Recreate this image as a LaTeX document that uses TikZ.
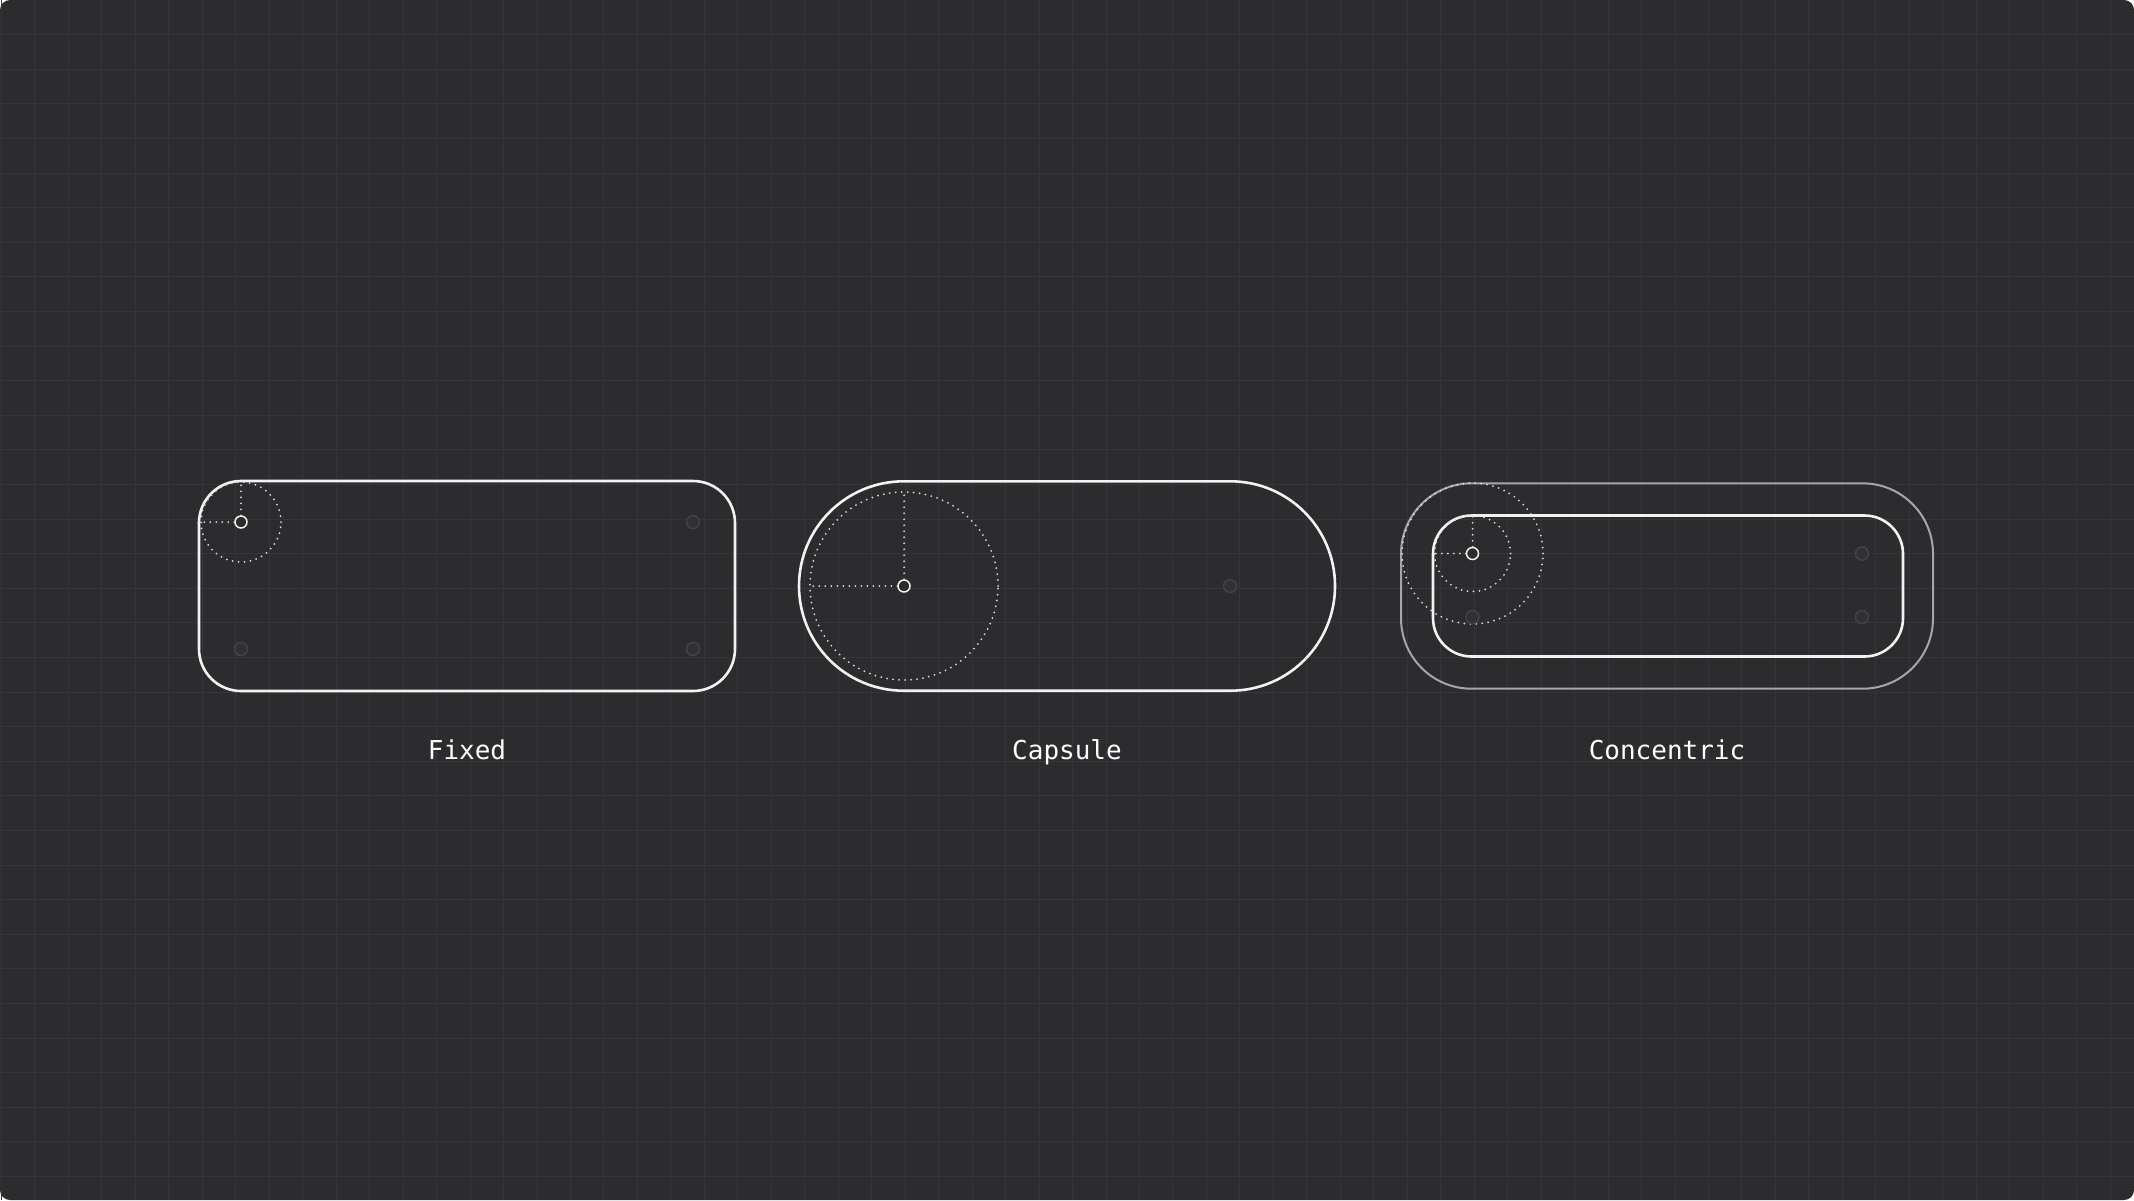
\documentclass[tikz,border=0pt]{standalone}
\usepackage{fontspec}
\setmonofont{DejaVu Sans Mono}
\usetikzlibrary{positioning}

\definecolor{canvas}{HTML}{2C2C2E}
\definecolor{gridgray}{HTML}{36363A}
\definecolor{shapewhite}{HTML}{F2F2F2}
\definecolor{ringgray}{HTML}{A6A6A8}
\definecolor{faintgray}{HTML}{424245}
\definecolor{faintfill}{HTML}{313134}
\definecolor{dotwhite}{HTML}{DCDCDE}

\begin{document}
\begin{tikzpicture}
    [x=0.5pt, y=-0.5pt,
    gridline/.style={
        draw=gridgray, line width=0.5pt
    },
    shapebox/.style={
        rectangle,
        draw=shapewhite,
        line width=1.3pt,
        inner sep=0pt
    },
    pivot/.style={
        circle, draw=shapewhite, fill=canvas,
        line width=0.75pt, minimum size=6pt, inner sep=0pt
    },
    faint/.style={
        circle, draw=faintgray, fill=faintfill, line width=0.8pt,
        minimum size=6.5pt, inner sep=0pt
    },
    radiusline/.style={
        draw=dotwhite, line width=1pt, line cap=round,
        dash pattern=on 0pt off 3pt
    },
    caption/.style={
        font=\ttfamily\fontsize{13}{15}\selectfont,
        text=white, text height=10pt, text depth=3pt
    }
    ]

    % Canvas with grid
    \useasboundingbox (0,0) rectangle (2134,1200);
    \fill[white] (0,0) rectangle (2134,1200);
    \fill[canvas, rounded corners=5pt] (0,0) rectangle (2134,1200);
    \foreach \i in {0,...,63}
        \draw[gridline] (1.5+33.47*\i,0) -- (1.5+33.47*\i,1200);
    \foreach \j in {1,...,34}
        \draw[gridline] (0,34.6*\j) -- (2134,34.6*\j);

    % Fixed
    \node[shapebox, rounded corners=21pt, minimum width=268pt, minimum height=105pt] (fixed) at (467,586) {};
    \draw[radiusline] (241,522) circle[radius=20pt];
    \node[pivot] (fixedpivot) at (241,522) {};
    \draw[radiusline] (fixedpivot.north) -- (fixedpivot.center |- fixed.north);
    \draw[radiusline] (fixedpivot.west) -- (fixedpivot.center -| fixed.west);
    \node[faint] (fixedtr) at (693,522) {};
    \node[faint] (fixedbl) at (241,649) {};
    \node[faint] (fixedbr) at (693,649) {};
    \node[caption, below=20pt of fixed] (fixedlabel) {Fixed};

    % Capsule
    \node[shapebox, rounded corners=52.35pt, minimum width=268pt, minimum height=104.7pt] (capsule) at (1067,586) {};
    \draw[radiusline] (904,586) circle[radius=47pt];
    \node[pivot] (capsulepivot) at (904,586) {};
    \draw[radiusline] (capsulepivot.north) -- (904,492);
    \draw[radiusline] (capsulepivot.west) -- (810,586);
    \node[faint] (capsuleright) at (1230,586) {};
    \node[caption, below=20pt of capsule] (capsulelabel) {Capsule};

    % Concentric
    \node[shapebox, draw=ringgray, line width=1pt, rounded corners=35.25pt, minimum width=266pt, minimum height=102.7pt] (outer) at (1667,586) {};
    \node[shapebox, rounded corners=19.25pt, minimum width=235pt, minimum height=70.5pt] (inner) at (1668,586) {};
    \draw[radiusline] (1472.5,553.5) circle[radius=35.25pt];
    \draw[radiusline] (1472.5,553.5) circle[radius=19pt];
    \node[pivot] (innerpivot) at (1472.5,553.5) {};
    \draw[radiusline] (innerpivot.north) -- (innerpivot.center |- inner.north);
    \draw[radiusline] (innerpivot.west) -- (innerpivot.center -| inner.west);
    \node[faint] (innertr) at (1862,553.5) {};
    \node[faint] (innerbl) at (1472.5,617) {};
    \node[faint] (innerbr) at (1862,617) {};
    \node[caption, below=21.2pt of outer] (concentriclabel) {Concentric};
\end{tikzpicture}
\end{document}
